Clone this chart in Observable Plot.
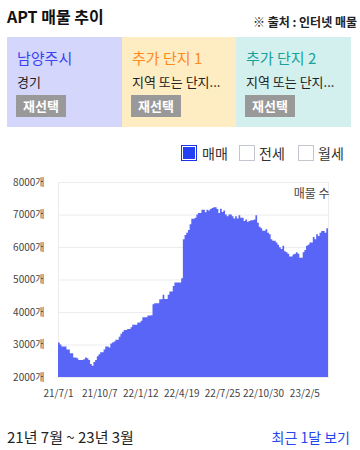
<!DOCTYPE html>
<html>
<head>
<meta charset="utf-8">
<script src="https://cdn.jsdelivr.net/npm/d3@7"></script>
<script src="https://cdn.jsdelivr.net/npm/@observablehq/plot@0.6"></script>
<style>
  html, body { margin: 0; padding: 0; background: #fff; }
  body { width: 360px; height: 450px; position: relative; overflow: hidden;
         font-family: "Noto Sans CJK KR", "Noto Sans", sans-serif; color: #222; }
  .abs { position: absolute; white-space: nowrap; }
  .title { left: 7px; top: 8px; font-size: 16px; line-height: 16px; font-weight: bold; color: #111; }
  .source { right: 3px; top: 16px; font-size: 12px; line-height: 12px; font-weight: bold; color: #222; }
  .panel { top: 37px; height: 90px; }
  .ptitle { position: absolute; left: 10px; top: 13px; font-size: 15px; line-height: 15px; }
  .psub { position: absolute; left: 10px; top: 38px; font-size: 13px; line-height: 13px; color: #222; }
  .btn { position: absolute; left: 9px; top: 58px; width: 50px; height: 22px; line-height: 22px;
         background: #999; color: #fff; font-size: 13px; font-weight: bold; text-align: center; }
  .box { position: absolute; top: 145px; width: 14px; height: 14px; box-sizing: content-box; }
  .box.on { border: 1px solid #1b33e6; background: #2340f5; box-shadow: inset 0 0 0 1px #fff; }
  .box.off { border: 1px solid #c3c6cf; background: #fff; }
  .lg { top: 146px; font-size: 14px; line-height: 14px; color: #333; }
  #chart { position: absolute; left: 0; top: 170px; }
  .range { left: 7px; top: 429px; font-size: 15px; line-height: 15px; color: #222; }
  .recent { right: 10px; top: 430px; font-size: 14px; line-height: 14px; color: #2446ee; }
</style>
</head>
<body>
<div class="abs title">APT 매물 추이</div>
<div class="abs source">※ 출처 : 인터넷 매물</div>

<div class="abs panel" style="left:7px; width:115px; background:#d4d6fb;">
  <div class="ptitle" style="color:#3b44f2;">남양주시</div>
  <div class="psub">경기</div>
  <div class="btn">재선택</div>
</div>
<div class="abs panel" style="left:122px; width:114px; background:#feecc3;">
  <div class="ptitle" style="color:#ff8a1c;">추가 단지 1</div>
  <div class="psub">지역 또는 단지...</div>
  <div class="btn">재선택</div>
</div>
<div class="abs panel" style="left:236px; width:115px; background:#d3f0ee;">
  <div class="ptitle" style="color:#16a29b;">추가 단지 2</div>
  <div class="psub">지역 또는 단지...</div>
  <div class="btn">재선택</div>
</div>

<div class="box on" style="left:181px;"></div>
<div class="abs lg" style="left:202px;">매매</div>
<div class="box off" style="left:239px;"></div>
<div class="abs lg" style="left:259px;">전세</div>
<div class="box off" style="left:298px;"></div>
<div class="abs lg" style="left:318px;">월세</div>

<div id="chart"></div>

<div class="abs range">21년 7월 ~ 23년 3월</div>
<div class="abs recent">최근 1달 보기</div>

<script>
// Data: listing counts, one value per 4-day period starting 2021-07-01
const startDate = "2021-07-01";
const stepDays = 4;
const listingCounts = [
  3060,3000,2940,2940,2940,2850,2850,2730,2730,2600,
  2600,2580,2520,2520,2520,2550,2600,2580,2520,2400,
  2350,2460,2520,2640,2700,2760,2760,2850,2940,2940,
  2910,3030,3060,3090,3150,3150,3240,3330,3390,3450,
  3450,3480,3480,3530,3610,3610,3610,3680,3680,3730,
  3840,3840,3840,3890,3890,3900,4240,4270,4270,4270,
  4390,4390,4530,4400,4400,4530,4630,4630,4800,4910,
  4910,4910,4910,5040,6240,6370,6440,6520,6700,6870,
  6870,6900,7000,7050,7050,7150,7150,7070,7150,7120,
  7170,7200,7220,7220,7170,7050,7180,7080,7120,7000,
  6950,7000,7000,6950,6880,6950,6880,6980,6900,6900,
  6800,6850,6780,6800,6820,6820,6850,6980,6750,6620,
  6580,6500,6500,6550,6440,6390,6240,6190,6190,6140,
  6070,5990,5940,6040,5870,5840,5790,5710,5710,5770,
  5790,5840,5790,5670,5670,5840,5910,6040,6070,6140,
  6140,6310,6240,6390,6340,6440,6490,6490,6440,6580
];
const yTicks = [2000, 3000, 4000, 5000, 6000, 7000, 8000];
const xTickLabels = ["21/7/1", "21/10/7", "22/1/12", "22/4/19", "22/7/25", "22/10/30", "23/2/5"];
const yUnit = "개";
const yLabel = "매물 수";

const start = new Date(startDate + "T00:00:00Z");
const series = listingCounts.map((v, i) => ({ date: d3.utcDay.offset(start, stepDays * i), value: v }));
// closing point so the last step has width
series.push({ date: d3.utcDay.offset(start, stepDays * listingCounts.length), value: listingCounts[listingCounts.length - 1] });

const parseLabel = (s) => { const [y, m, d] = s.split("/").map(Number); return new Date(Date.UTC(2000 + y, m - 1, d)); };
const xTicks = xTickLabels.map(parseLabel);

const chart = Plot.plot({
  width: 360,
  height: 235,
  marginTop: 12,
  marginBottom: 28,
  marginLeft: 58,
  marginRight: 32,
  style: { fontFamily: "'Noto Sans CJK KR', sans-serif", fontSize: "10px", color: "#444", background: "transparent" },
  x: { type: "utc", domain: [series[0].date, series[series.length - 1].date] },
  y: { domain: [2000, 8000] },
  marks: [
    Plot.ruleY(yTicks, { stroke: "#ececec" }),
    Plot.frame({ stroke: "#ececec" }),
    Plot.areaY(series, { x: "date", y1: 2000, y2: "value", curve: "step-after", fill: "#5865f6" }),
    Plot.axisY(yTicks, { tickSize: 0, tickPadding: 14, tickFormat: d => d + yUnit, label: null }),
    Plot.axisX(xTicks, { tickSize: 0, tickPadding: 12, tickFormat: d => xTickLabels[xTicks.findIndex(t => +t === +d)], label: null }),
    Plot.text([yLabel], { frameAnchor: "top-right", dy: 7, dx: 1, fontSize: 12, fill: "#444" })
  ]
});
document.getElementById("chart").appendChild(chart);
</script>
</body>
</html>
